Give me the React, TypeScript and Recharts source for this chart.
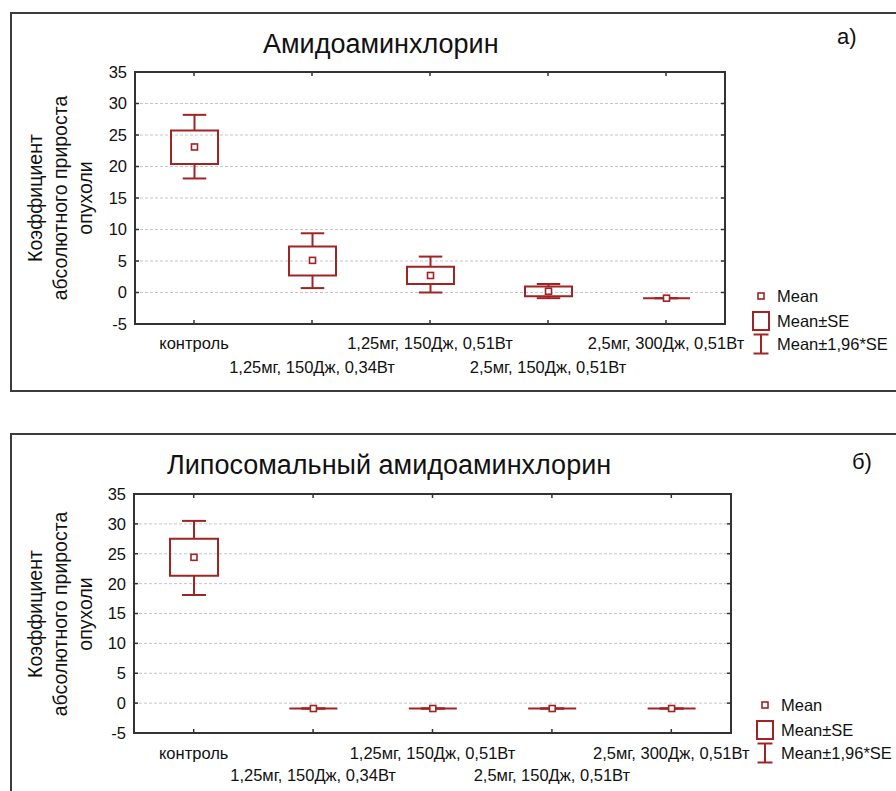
import React from 'react';
import { ComposedChart, Bar, XAxis, YAxis, CartesianGrid } from 'recharts';

// ---------- data ----------
const categories = [
  'контроль',
  '1,25мг, 150Дж, 0,34Вт',
  '1,25мг, 150Дж, 0,51Вт',
  '2,5мг, 150Дж, 0,51Вт',
  '2,5мг, 300Дж, 0,51Вт',
];

// Panel а) Амидоаминхлорин
const meanA = [23.1, 5.1, 2.7, 0.2, -0.9];
const seLowA = [20.4, 2.7, 1.35, -0.6, -0.9];
const seHighA = [25.7, 7.3, 4.1, 0.95, -0.9];
const ciLowA = [18.1, 0.7, 0.0, -0.9, -0.9];
const ciHighA = [28.2, 9.4, 5.7, 1.35, -0.9];

// Panel б) Липосомальный амидоаминхлорин
const meanB = [24.4, -0.9, -0.9, -0.9, -0.9];
const seLowB = [21.3, -0.9, -0.9, -0.9, -0.9];
const seHighB = [27.5, -0.9, -0.9, -0.9, -0.9];
const ciLowB = [18.1, -0.9, -0.9, -0.9, -0.9];
const ciHighB = [30.5, -0.9, -0.9, -0.9, -0.9];

const yTicks = [-5, 0, 5, 10, 15, 20, 25, 30, 35];
const Y_MIN = -5;
const Y_MAX = 35;

const legendLabels = ['Mean', 'Mean±SE', 'Mean±1,96*SE'];
const yLabelLines = ['Коэффициент', 'абсолютного прироста', 'опухоли'];

// ---------- styles ----------
const RED = '#A02424';
const AXIS = '#333333';
const FONT = '"Liberation Sans", Arial, sans-serif';
const TXT = '#111111';

type Row = {
  name: string;
  mean: number;
  seLow: number;
  seHigh: number;
  ciLow: number;
  ciHigh: number;
};

function buildRows(
  mean: number[],
  seLow: number[],
  seHigh: number[],
  ciLow: number[],
  ciHigh: number[]
): Row[] {
  return categories.map((name, i) => ({
    name,
    mean: mean[i],
    seLow: seLow[i],
    seHigh: seHigh[i],
    ciLow: ciLow[i],
    ciHigh: ciHigh[i],
  }));
}

const rowsA = buildRows(meanA, seLowA, seHighA, ciLowA, ciHighA);
const rowsB = buildRows(meanB, seLowB, seHighB, ciLowB, ciHighB);

// The bar spans the whole value domain, so its pixel box gives the y scale.
const fullRange = () => [Y_MIN, Y_MAX];

const BoxShape = (props: any) => {
  const { x, y, width, height, payload } = props;
  if (payload == null) return null;
  const py = (v: number) => y + ((Y_MAX - v) / (Y_MAX - Y_MIN)) * height;
  const cx = x + width / 2;
  const capHalf = width * 0.25;
  const yCiH = py(payload.ciHigh);
  const yCiL = py(payload.ciLow);
  const ySeH = py(payload.seHigh);
  const ySeL = py(payload.seLow);
  const yM = py(payload.mean);
  return (
    <g stroke={RED} strokeWidth={2} fill="none">
      <line x1={cx} x2={cx} y1={yCiH} y2={ySeH} />
      <line x1={cx} x2={cx} y1={ySeL} y2={yCiL} />
      <line x1={cx - capHalf} x2={cx + capHalf} y1={yCiH} y2={yCiH} />
      <line x1={cx - capHalf} x2={cx + capHalf} y1={yCiL} y2={yCiL} />
      <path d={`M${x},${ySeH}H${x + width}V${ySeL}H${x}Z`} />
      <rect x={cx - 3} y={yM - 3} width={6} height={6} fill="#fff" strokeWidth={1.6} />
    </g>
  );
};

const LeftTick = (props: any) => {
  const { x, y, payload } = props;
  return (
    <g>
      <line x1={x} x2={x + 4} y1={y} y2={y} stroke={AXIS} strokeWidth={1.5} />
      <text x={x - 8} y={y} dy="0.36em" textAnchor="end" fontFamily={FONT} fontSize={16.5} fill={TXT}>
        {payload.value}
      </text>
    </g>
  );
};

const RightTick = (props: any) => {
  const { x, y } = props;
  return <line x1={x} x2={x - 4} y1={y} y2={y} stroke={AXIS} strokeWidth={1.5} />;
};

const TopTick = (props: any) => {
  const { x, y } = props;
  return <line x1={x} x2={x} y1={y} y2={y + 4} stroke={AXIS} strokeWidth={1.5} />;
};

const makeBottomTick = (row1: number, row2: number) => (props: any) => {
  const { x, y, payload, index } = props;
  const dyRow = index % 2 === 0 ? row1 : row2;
  return (
    <g>
      <line x1={x} x2={x} y1={y} y2={y - 4} stroke={AXIS} strokeWidth={1.5} />
      <text x={x} y={y + dyRow} dy="0.36em" textAnchor="middle" fontFamily={FONT} fontSize={16.5} fill={TXT}>
        {payload.value}
      </text>
    </g>
  );
};

const axisLineStyle = { stroke: AXIS, strokeWidth: 2, strokeLinecap: 'square' as const };

type PanelProps = {
  rows: Row[];
  top: number;
  height: number;
  margin: { top: number; right: number; bottom: number; left: number };
  bottomAxisHeight: number;
  barSize: number;
  row1: number;
  row2: number;
};

const Panel = ({ rows, top, height, margin, bottomAxisHeight, barSize, row1, row2 }: PanelProps) => (
  <div style={{ position: 'absolute', left: 0, top, width: 896, height }}>
    <ComposedChart width={896} height={height} data={rows} margin={margin}>
      <CartesianGrid
        xAxisId="bottom"
        yAxisId="left"
        vertical={false}
        stroke="#c6c6c6"
        strokeDasharray="3 2"
      />
      <XAxis
        xAxisId="bottom"
        dataKey="name"
        orientation="bottom"
        height={bottomAxisHeight}
        interval={0}
        tickSize={0}
        tickMargin={0}
        tickLine={false}
        axisLine={axisLineStyle}
        tick={makeBottomTick(row1, row2)}
      />
      <XAxis
        xAxisId="top"
        dataKey="name"
        orientation="top"
        height={1}
        interval={0}
        tickSize={0}
        tickMargin={0}
        tickLine={false}
        axisLine={axisLineStyle}
        tick={TopTick}
      />
      <YAxis
        yAxisId="left"
        type="number"
        domain={[Y_MIN, Y_MAX]}
        ticks={yTicks}
        interval={0}
        allowDataOverflow
        width={60}
        tickSize={0}
        tickMargin={0}
        tickLine={false}
        axisLine={axisLineStyle}
        tick={LeftTick}
      />
      <YAxis
        yAxisId="right"
        orientation="right"
        type="number"
        domain={[Y_MIN, Y_MAX]}
        ticks={yTicks}
        interval={0}
        allowDataOverflow
        width={1}
        tickSize={0}
        tickMargin={0}
        tickLine={false}
        axisLine={axisLineStyle}
        tick={RightTick}
      />
      <Bar
        xAxisId="bottom"
        yAxisId="left"
        dataKey={fullRange}
        barSize={barSize}
        shape={BoxShape}
        isAnimationActive={false}
      />
    </ComposedChart>
  </div>
);

const Legend = ({ iconX, textX, yMean, ySe, yCi }: { iconX: number; textX: number; yMean: number; ySe: number; yCi: number }) => (
  <g>
    <rect x={iconX - 3} y={yMean - 3} width={6} height={6} fill="#fff" stroke={RED} strokeWidth={1.6} />
    <rect x={iconX - 8} y={ySe - 9} width={16} height={18} fill="none" stroke={RED} strokeWidth={2} />
    <g stroke={RED} strokeWidth={2}>
      <line x1={iconX} x2={iconX} y1={yCi - 9.5} y2={yCi + 9.5} />
      <line x1={iconX - 7.5} x2={iconX + 7.5} y1={yCi - 9.5} y2={yCi - 9.5} />
      <line x1={iconX - 7.5} x2={iconX + 7.5} y1={yCi + 9.5} y2={yCi + 9.5} />
    </g>
    {[yMean, ySe, yCi].map((yy, i) => (
      <text key={i} x={textX} y={yy} dy="0.36em" fontFamily={FONT} fontSize={16.5} fill={TXT}>
        {legendLabels[i]}
      </text>
    ))}
  </g>
);

const YLabel = ({ cy }: { cy: number }) => (
  <g>
    {yLabelLines.map((t, i) => {
      const bx = 42 + i * 25;
      return (
        <text
          key={i}
          x={bx}
          y={cy}
          transform={`rotate(-90, ${bx}, ${cy})`}
          textAnchor="middle"
          fontFamily={FONT}
          fontSize={19.5}
          fill={TXT}
        >
          {t}
        </text>
      );
    })}
  </g>
);

export default function App() {
  return (
    <div style={{ position: 'absolute', left: 0, top: 0, width: 896, height: 791, background: '#fff', overflow: 'hidden' }}>
      <svg width={896} height={791} style={{ position: 'absolute', left: 0, top: 0 }}>
        {/* panel frames */}
        <rect x={11} y={13} width={900} height={378} fill="none" stroke="#3c3c3c" strokeWidth={2} />
        <rect x={11} y={434} width={900} height={400} fill="none" stroke="#3c3c3c" strokeWidth={2} />
        {/* titles */}
        <text x={263} y={53} fontFamily={FONT} fontSize={27} fill={TXT}>Амидоаминхлорин</text>
        <text x={167} y={474} fontFamily={FONT} fontSize={27} fill={TXT}>Липосомальный амидоаминхлорин</text>
        <text x={837} y={44} fontFamily={FONT} fontSize={22} fill={TXT}>а)</text>
        <text x={852} y={469} fontFamily={FONT} fontSize={22} fill={TXT}>б)</text>
        <YLabel cy={198} />
        <YLabel cy={614} />
        <Legend iconX={761} textX={777} yMean={296} ySe={321} yCi={344} />
        <Legend iconX={765} textX={781} yMean={705} ySe={730} yCi={753} />
      </svg>
      <Panel
        rows={rowsA}
        top={0}
        height={400}
        margin={{ top: 71, right: 170, bottom: 16, left: 75 }}
        bottomAxisHeight={60}
        barSize={47}
        row1={19}
        row2={43}
      />
      <Panel
        rows={rowsB}
        top={400}
        height={391}
        margin={{ top: 93, right: 164, bottom: 8, left: 74 }}
        bottomAxisHeight={50}
        barSize={48}
        row1={20}
        row2={42}
      />
    </div>
  );
}
